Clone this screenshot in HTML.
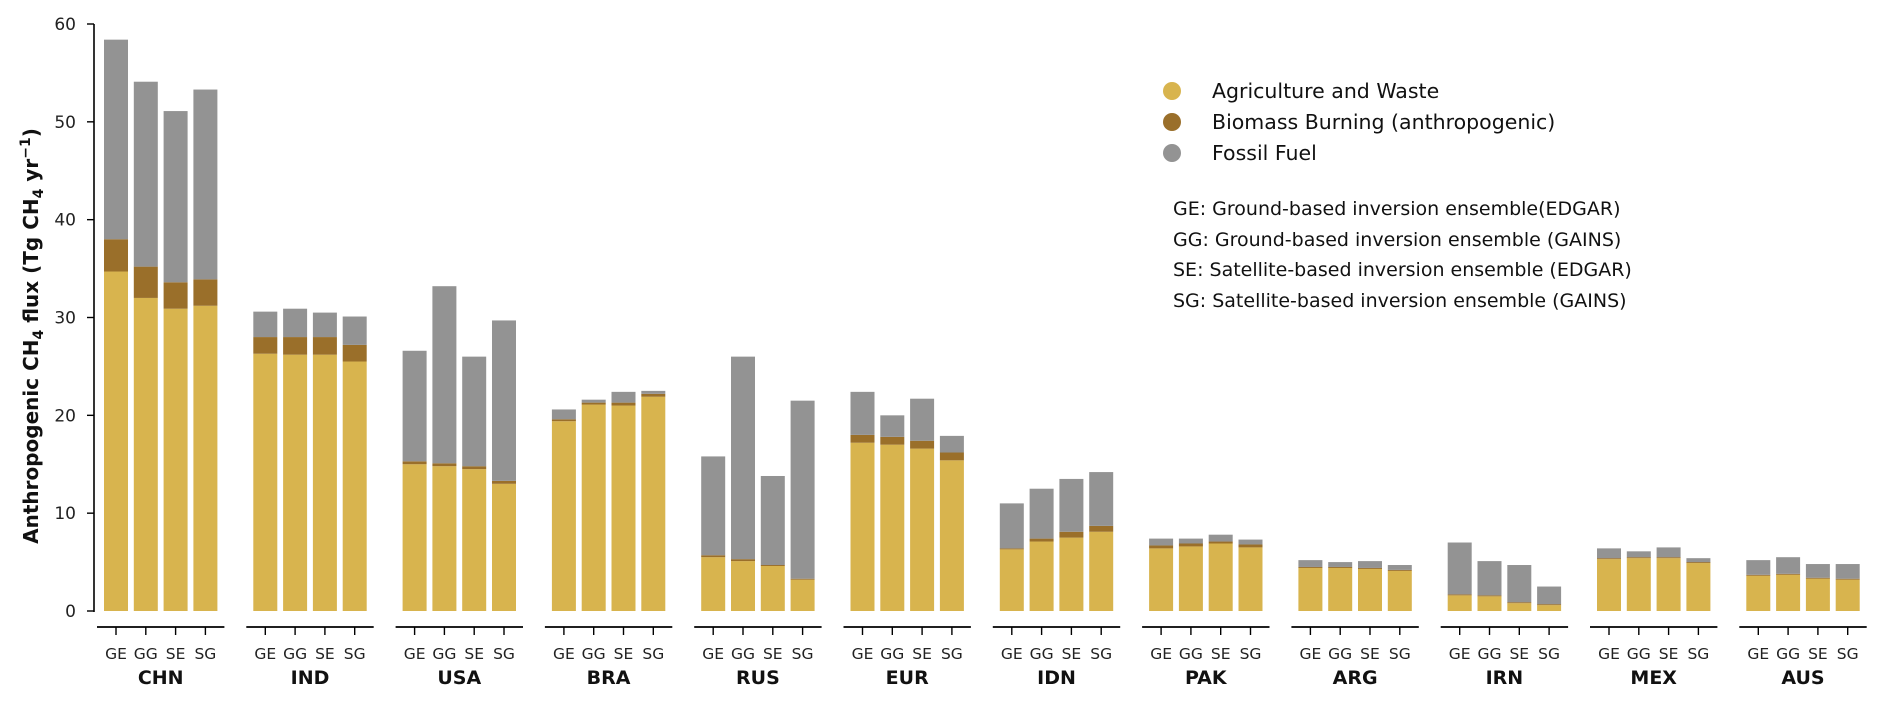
<!DOCTYPE html>
<html><head><meta charset="utf-8"><style>
html,body{margin:0;padding:0;background:#fff;}
svg{display:block;font-family:"DejaVu Sans","Liberation Sans",sans-serif;}
</style></head><body>
<svg id="chart" width="1892" height="706" viewBox="0 0 1892 706">
<g id="yaxis"></g>
<g id="bars"></g>
<g id="xaxis"></g>
<text transform="translate(38,336) rotate(-90)" text-anchor="middle" font-size="20" font-weight="bold" fill="#111">Anthropogenic CH<tspan font-size="14" dy="5">4</tspan><tspan dy="-5"> flux (Tg CH</tspan><tspan font-size="14" dy="5">4</tspan><tspan dy="-5"> yr</tspan><tspan font-size="14" dy="-8">−1</tspan><tspan dy="8">)</tspan></text>
<g font-size="20.5" fill="#111">
<g><circle cx="1172" cy="91" r="9" fill="#d8b44e"/><text x="1212" y="98">Agriculture and Waste</text></g>
<g><circle cx="1172" cy="122" r="9" fill="#9a6f2a"/><text x="1212" y="129">Biomass Burning (anthropogenic)</text></g>
<g><circle cx="1172" cy="153" r="9" fill="#939393"/><text x="1212" y="160">Fossil Fuel</text></g>
<g font-size="19">
<text x="1173" y="215">GE: Ground-based inversion ensemble(EDGAR)</text>
<text x="1173" y="246">GG: Ground-based inversion ensemble (GAINS)</text>
<text x="1173" y="276">SE: Satellite-based inversion ensemble (EDGAR)</text>
<text x="1173" y="307">SG: Satellite-based inversion ensemble (GAINS)</text>
</g>
</g>
</svg>
<script>
const countries = ["CHN","IND","USA","BRA","RUS","EUR","IDN","PAK","ARG","IRN","MEX","AUS"];
const ensembles = ["GE","GG","SE","SG"];
const yTicks = [0,10,20,30,40,50,60];
// agriculture & waste value per country, per ensemble
const agri = [[34.7,32,30.9,31.2],[26.3,26.2,26.2,25.5],[15,14.8,14.5,13],[19.4,21.1,21,21.9],[5.5,5.1,4.6,3.2],[17.2,17,16.6,15.4],[6.3,7.1,7.5,8.1],[6.4,6.6,6.9,6.5],[4.4,4.4,4.3,4.1],[1.6,1.5,0.8,0.6],[5.3,5.4,5.4,4.9],[3.6,3.7,3.3,3.2]];
// biomass burning
const biomass = [[3.3,3.2,2.7,2.7],[1.7,1.8,1.8,1.7],[0.3,0.3,0.3,0.3],[0.2,0.2,0.3,0.3],[0.2,0.2,0.1,0.1],[0.8,0.8,0.8,0.8],[0.1,0.3,0.6,0.6],[0.3,0.3,0.2,0.3],[0.1,0.1,0.1,0.1],[0.1,0.1,0.1,0.1],[0.1,0.1,0.1,0.1],[0.1,0.1,0.1,0.1]];
// fossil fuel
const fossil = [[20.4,18.9,17.5,19.4],[2.6,2.9,2.5,2.9],[11.3,18.1,11.2,16.4],[1,0.3,1.1,0.3],[10.1,20.7,9.1,18.2],[4.4,2.2,4.3,1.7],[4.6,5.1,5.4,5.5],[0.7,0.5,0.7,0.5],[0.7,0.5,0.7,0.5],[5.3,3.5,3.8,1.8],[1,0.6,1,0.4],[1.5,1.7,1.4,1.5]];
const colors = ["#d8b44e","#9a6f2a","#939393"];
const NS="http://www.w3.org/2000/svg";
const Y0=611, YPX=(611-24)/60;
function y(v){return Y0 - v*YPX;}
function xBar(ci,ei){return 104 + ci*149.3 + ei*29.8;}
const BW=24;
function mk(tag,attrs,parent){const e=document.createElementNS(NS,tag);for(const k in attrs)e.setAttribute(k,attrs[k]);parent.appendChild(e);return e;}
const ya=document.getElementById('yaxis'), bars=document.getElementById('bars'), xa=document.getElementById('xaxis');
let l=mk('line',{x1:94,x2:94,y1:y(60),y2:Y0+1,stroke:'#000','stroke-width':1.6},ya);


yTicks.forEach(t=>{
  let tk=mk('line',{x1:87,x2:94,y1:y(t),y2:y(t),stroke:'#000','stroke-width':1.4},ya);
  
  
  let tx=mk('text',{x:76,y:y(t)+6,'text-anchor':'end','font-size':17,fill:'#222'},ya);
  tx.textContent=t;
  
  
});
countries.forEach((c,ci)=>{
  ensembles.forEach((e,ei)=>{
    const x=xBar(ci,ei);
    const vals=[agri[ci][ei],biomass[ci][ei],fossil[ci][ei]];
    const names=['agriculture','biomass','fossil'];
    let base=0;
    vals.forEach((v,k)=>{
      const r=mk('rect',{x:x,y:y(base+v),width:BW,height:Math.max(0,y(base)-y(base+v)),fill:colors[k]},bars);
      
      
      base+=v;
    });
    const tk=mk('line',{x1:x+BW/2,x2:x+BW/2,y1:627,y2:635,stroke:'#000','stroke-width':1.4},xa);
    
    
    const tl=mk('text',{x:x+BW/2,y:659,'text-anchor':'middle','font-size':15.5,fill:'#222'},xa);
    tl.textContent=e;
    
    
  });
  const x0=xBar(ci,0)-7, x1=xBar(ci,3)+BW+7;
  const al=mk('line',{x1:x0,x2:x1,y1:627,y2:627,stroke:'#000','stroke-width':1.8},xa);
  
  
  const cl=mk('text',{x:(x0+x1)/2,y:684,'text-anchor':'middle','font-size':19,'font-weight':'bold',fill:'#111'},xa);
  cl.textContent=c;
  
  
});
</script>
</body></html>
